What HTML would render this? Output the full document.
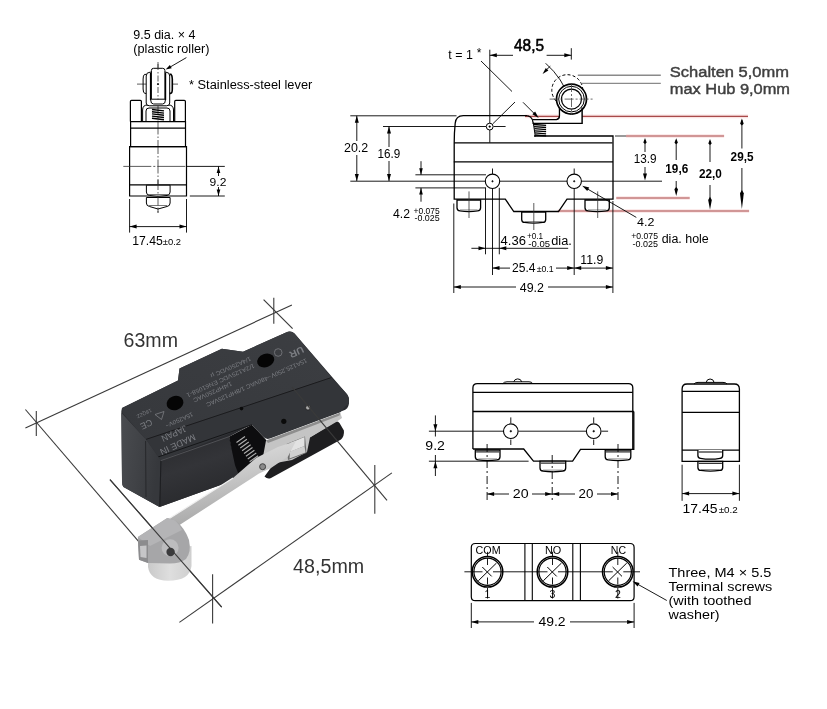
<!DOCTYPE html>
<html><head><meta charset="utf-8"><style>
html,body{margin:0;padding:0;background:#fff;width:827px;height:709px;overflow:hidden}
svg{display:block;will-change:transform}
text{font-family:"Liberation Sans",sans-serif}
</style></head><body>
<svg width="827" height="709" viewBox="0 0 827 709">
<rect x="0" y="0" width="827" height="709" fill="#fff"/>
<text x="133.3" y="39.3" font-size="12" fill="#000" textLength="62.2" lengthAdjust="spacingAndGlyphs">9.5 dia. × 4</text>
<text x="133.3" y="52.6" font-size="12" fill="#000" textLength="76.2" lengthAdjust="spacingAndGlyphs">(plastic roller)</text>
<text x="189" y="88.9" font-size="12" fill="#000" textLength="123.3" lengthAdjust="spacingAndGlyphs">* Stainless-steel lever</text>
<line x1="186.4" y1="57.6" x2="168" y2="68.3" stroke="#000" stroke-width="0.9"/>
<path d="M165.6,69.6 L169.9,65.04 L171.7,68.16 Z" fill="#000"/>
<line x1="158" y1="62" x2="158" y2="213" stroke="#333" stroke-width="0.8" stroke-dasharray="14 2 1.5 2"/>
<line x1="137" y1="84.1" x2="178" y2="84.1" stroke="#333" stroke-width="0.8" stroke-dasharray="12 2 1.5 2"/>
<path d="M142.6,121.6 V110 Q142.6,105 147.5,105 H168.5 Q173.5,105 173.5,110 V121.6" stroke="#000" stroke-width="1" fill="none" />
<path d="M146,121.6 V111 Q146,108 149,108 H167 Q170,108 170,111 V121.6" stroke="#000" stroke-width="1" fill="none" />
<line x1="152" y1="109.5" x2="164" y2="110.9" stroke="#000" stroke-width="1.4"/>
<line x1="152" y1="111.7" x2="164" y2="113.1" stroke="#000" stroke-width="1.4"/>
<line x1="152" y1="113.9" x2="164" y2="115.3" stroke="#000" stroke-width="1.4"/>
<line x1="152" y1="116.1" x2="164" y2="117.5" stroke="#000" stroke-width="1.4"/>
<line x1="152" y1="118.3" x2="164" y2="119.7" stroke="#000" stroke-width="1.4"/>
<path d="M146.2,103 V76 Q146.2,72.2 150,72.2 H166 Q169.7,72.2 169.7,76 V103 Q169.7,105.8 166.5,105.8 H149.5 Q146.2,105.8 146.2,103 Z" stroke="#000" stroke-width="1" fill="#fff" />
<path d="M146.2,74.4 H144.5 Q143.1,75.5 143.1,79 V89 Q143.1,93.4 145,93.4 H146.2" stroke="#000" stroke-width="1" fill="none" />
<path d="M169.7,74.4 H171 Q172.3,75.5 172.3,79 V89 Q172.3,93.4 170.5,93.4 H169.7" stroke="#000" stroke-width="1.6" fill="none" />
<line x1="150.7" y1="73" x2="150.7" y2="100" stroke="#000" stroke-width="1.6"/>
<line x1="165.4" y1="73" x2="165.4" y2="100" stroke="#000" stroke-width="1.6"/>
<path d="M151.4,99.2 V70.5 Q151.4,68.3 153.6,68.3 H162.7 Q164.9,68.3 164.9,70.5 V99.2 Z" stroke="#000" stroke-width="1" fill="#fff" />
<path d="M150.7,100 Q150.7,104 153.5,104 H162.7 Q165.4,104 165.4,100" stroke="#000" stroke-width="1" fill="none" />
<line x1="158" y1="64" x2="158" y2="100" stroke="#333" stroke-width="0.8" stroke-dasharray="6 2 1.5 2"/>
<circle cx="158" cy="84.1" r="0.6" stroke="#000" stroke-width="0.8" fill="#000"/>
<path d="M130.4,121.6 V101.5 Q130.4,100.4 131.5,100.4 H140.3 Q141.4,100.4 141.4,101.5 V121.6" stroke="#000" stroke-width="1.2" fill="none" />
<path d="M174.7,121.6 V101.5 Q174.7,100.4 175.8,100.4 H184.3 Q185.4,100.4 185.4,101.5 V121.6" stroke="#000" stroke-width="1.2" fill="none" />
<path d="M130.6,121.6 H185.5 V146.7 H130.6 Z" stroke="#000" stroke-width="1.2" fill="none" />
<line x1="130.6" y1="128.1" x2="185.5" y2="128.1" stroke="#000" stroke-width="1.2"/>
<path d="M129.6,146.7 H186.5 V196 H129.6 Z" stroke="#000" stroke-width="1.2" fill="none" />
<line x1="129.6" y1="184.8" x2="186.5" y2="184.8" stroke="#000" stroke-width="1.2"/>
<path d="M146.4,185.2 H170.1 V192 Q170.1,195 167,195.5 Q158,197 149.5,195.5 Q146.4,195 146.4,192 Z" stroke="#000" stroke-width="1" fill="#fff" />
<path d="M146.4,197.5 H170.1 V203 Q170.1,206 167,206.5 L158,209 L149.5,206.5 Q146.4,206 146.4,203 Z" stroke="#000" stroke-width="1" fill="#fff" />
<line x1="148" y1="194.5" x2="168" y2="194.5" stroke="#555" stroke-width="0.8"/>
<line x1="149" y1="205.5" x2="167" y2="205.5" stroke="#555" stroke-width="0.8"/>
<line x1="158" y1="180" x2="158" y2="213" stroke="#333" stroke-width="0.8" stroke-dasharray="10 2 1.5 2"/>
<line x1="123.3" y1="166.4" x2="186.5" y2="166.4" stroke="#333" stroke-width="0.8" stroke-dasharray="28 2 2 2"/>
<line x1="186.5" y1="166.4" x2="224.8" y2="166.4" stroke="#000" stroke-width="0.9"/>
<line x1="189.8" y1="196" x2="224.8" y2="196" stroke="#000" stroke-width="0.9"/>
<line x1="218.5" y1="166.4" x2="218.5" y2="176" stroke="#000" stroke-width="0.9"/>
<path d="M218.5,166.4 L220.3,172.9 L216.7,172.9 Z" fill="#000"/>
<line x1="218.5" y1="187" x2="218.5" y2="196" stroke="#000" stroke-width="0.9"/>
<path d="M218.5,196 L216.7,189.5 L220.3,189.5 Z" fill="#000"/>
<text x="209.6" y="185.8" font-size="11.5" fill="#000" textLength="16.8" lengthAdjust="spacingAndGlyphs">9.2</text>
<line x1="129.6" y1="199" x2="129.6" y2="232.6" stroke="#000" stroke-width="0.9"/>
<line x1="186.5" y1="199" x2="186.5" y2="232.6" stroke="#000" stroke-width="0.9"/>
<line x1="129.6" y1="226.6" x2="186.5" y2="226.6" stroke="#000" stroke-width="0.9"/>
<path d="M129.6,226.6 L136.6,224.6 L136.6,228.6 Z" fill="#000"/>
<path d="M186.5,226.6 L179.5,228.6 L179.5,224.6 Z" fill="#000"/>
<text x="132.2" y="245.4" font-size="13" fill="#000" textLength="30.6" lengthAdjust="spacingAndGlyphs">17.45</text>
<text x="162.8" y="245.4" font-size="9" fill="#000" textLength="18.2" lengthAdjust="spacingAndGlyphs">±0.2</text>
<text x="448.3" y="58.6" font-size="12" fill="#000" textLength="24.5" lengthAdjust="spacingAndGlyphs">t = 1</text>
<text x="476.8" y="57" font-size="12" fill="#000">*</text>
<text x="514" y="50.8" font-size="16" fill="#000" stroke="#000" stroke-width="0.55" textLength="30" lengthAdjust="spacingAndGlyphs">48,5</text>
<text x="669.8" y="76.7" font-size="15.5" fill="#3f3f3f" stroke="#3f3f3f" stroke-width="0.45" textLength="119.2" lengthAdjust="spacingAndGlyphs">Schalten 5,0mm</text>
<text x="669.8" y="94.3" font-size="15.5" fill="#3f3f3f" stroke="#3f3f3f" stroke-width="0.45" textLength="120.2" lengthAdjust="spacingAndGlyphs">max Hub 9,0mm</text>
<line x1="489.8" y1="49.7" x2="489.8" y2="142.6" stroke="#000" stroke-width="0.9"/>
<line x1="571.3" y1="48.2" x2="571.3" y2="59.6" stroke="#000" stroke-width="0.9"/>
<line x1="489.8" y1="55.3" x2="513" y2="55.3" stroke="#000" stroke-width="0.9"/>
<path d="M489.8,55.3 L496.8,53.3 L496.8,57.3 Z" fill="#000"/>
<line x1="546.6" y1="55.3" x2="571.3" y2="55.3" stroke="#000" stroke-width="0.9"/>
<path d="M571.3,55.3 L564.3,57.3 L564.3,53.3 Z" fill="#000"/>
<line x1="577.8" y1="75.2" x2="660.8" y2="75.2" stroke="#8a8a8a" stroke-width="1.4"/>
<line x1="582" y1="83.4" x2="660.8" y2="83.4" stroke="#8a8a8a" stroke-width="1.4"/>
<line x1="525" y1="116.4" x2="748" y2="116.4" stroke="#fae3e3" stroke-width="3.6"/>
<line x1="525" y1="116.4" x2="748" y2="116.4" stroke="#a84a4a" stroke-width="1.1"/>
<line x1="626.1" y1="136" x2="724.1" y2="136" stroke="#fae3e3" stroke-width="3.6"/>
<line x1="626.1" y1="136" x2="724.1" y2="136" stroke="#a84a4a" stroke-width="1.1"/>
<line x1="615" y1="136" x2="626.1" y2="136" stroke="#000" stroke-width="0.8"/>
<line x1="616.3" y1="198" x2="689.7" y2="198" stroke="#fae3e3" stroke-width="3.6"/>
<line x1="616.3" y1="198" x2="689.7" y2="198" stroke="#a84a4a" stroke-width="1.1"/>
<line x1="557.8" y1="211" x2="749.1" y2="211" stroke="#fae3e3" stroke-width="3.6"/>
<line x1="557.8" y1="211" x2="749.1" y2="211" stroke="#a84a4a" stroke-width="1.1"/>
<line x1="350.3" y1="115.8" x2="456.5" y2="115.8" stroke="#000" stroke-width="0.9"/>
<line x1="383" y1="126.5" x2="486" y2="126.5" stroke="#000" stroke-width="0.9"/>
<line x1="493.5" y1="126.5" x2="505.6" y2="126.5" stroke="#000" stroke-width="0.9"/>
<line x1="350.3" y1="181.2" x2="662" y2="181.2" stroke="#000" stroke-width="0.9"/>
<line x1="415.4" y1="174.8" x2="486" y2="174.8" stroke="#000" stroke-width="0.9"/>
<line x1="415.4" y1="187.9" x2="486" y2="187.9" stroke="#000" stroke-width="0.9"/>
<line x1="356.8" y1="115.8" x2="356.8" y2="141" stroke="#000" stroke-width="0.9"/>
<path d="M356.8,115.8 L358.8,122.8 L354.8,122.8 Z" fill="#000"/>
<line x1="356.8" y1="155" x2="356.8" y2="181" stroke="#000" stroke-width="0.9"/>
<path d="M356.8,181 L354.8,174 L358.8,174 Z" fill="#000"/>
<text x="344" y="151.7" font-size="12" fill="#000" textLength="24.2" lengthAdjust="spacingAndGlyphs">20.2</text>
<line x1="389" y1="126.5" x2="389" y2="147" stroke="#000" stroke-width="0.9"/>
<path d="M389,126.5 L391,133.5 L387,133.5 Z" fill="#000"/>
<line x1="389" y1="161" x2="389" y2="181" stroke="#000" stroke-width="0.9"/>
<path d="M389,181 L387,174 L391,174 Z" fill="#000"/>
<text x="377.5" y="157.7" font-size="12" fill="#000" textLength="22.7" lengthAdjust="spacingAndGlyphs">16.9</text>
<line x1="421" y1="161.2" x2="421" y2="174.8" stroke="#000" stroke-width="0.9"/>
<path d="M421,174.8 L419.2,168.3 L422.8,168.3 Z" fill="#000"/>
<line x1="421" y1="187.9" x2="421" y2="201.7" stroke="#000" stroke-width="0.9"/>
<path d="M421,187.9 L422.8,194.4 L419.2,194.4 Z" fill="#000"/>
<text x="393" y="217.5" font-size="12" fill="#000" textLength="17" lengthAdjust="spacingAndGlyphs">4.2</text>
<text x="413.5" y="213.5" font-size="8.5" fill="#000" textLength="26.2" lengthAdjust="spacingAndGlyphs">+0.075</text>
<text x="414.5" y="220.9" font-size="8.5" fill="#000" textLength="25.2" lengthAdjust="spacingAndGlyphs">-0.025</text>
<line x1="481" y1="61" x2="512" y2="91.5" stroke="#000" stroke-width="0.9"/>
<line x1="523" y1="102.3" x2="535.5" y2="114.8" stroke="#000" stroke-width="0.9"/>
<path d="M538.7,117.9 L532.41,114.29 L535.09,111.61 Z" fill="#000"/>
<line x1="492.8" y1="123.8" x2="515" y2="102" stroke="#000" stroke-width="0.9"/>
<path d="M527.5,115.6 H463.3 Q455.8,115.8 455.2,123.3 Q454.2,133 454.2,143 V199.2 H505.3 L513.8,211.5 H558.5 L567,199.2 H613 V136 H534" stroke="#000" stroke-width="1.3" fill="none" />
<line x1="454.2" y1="142.8" x2="612.5" y2="142.8" stroke="#000" stroke-width="1.3"/>
<line x1="453.8" y1="161.8" x2="613" y2="161.8" stroke="#000" stroke-width="1.3"/>
<line x1="489.8" y1="142.8" x2="489.8" y2="142.8" stroke="#000" stroke-width="0"/>
<path d="M527.5,115.6 Q531,116.5 532.4,119.6 H556.5 Q559.5,119.3 559.5,116 V106" stroke="#000" stroke-width="1.2" fill="none" />
<path d="M532.7,123.3 H582 V106.4" stroke="#000" stroke-width="1.2" fill="none" />
<path d="M532.4,119.6 L533.4,123.3" stroke="#000" stroke-width="1" fill="none" />
<path d="M533.4,123.3 L535.3,136.5" stroke="#000" stroke-width="1" fill="none" />
<line x1="533.8" y1="124.5" x2="546.1" y2="125.4" stroke="#000" stroke-width="1.3"/>
<line x1="534.1" y1="126.6" x2="546.1" y2="127.5" stroke="#000" stroke-width="1.3"/>
<line x1="534.4" y1="128.7" x2="546.1" y2="129.6" stroke="#000" stroke-width="1.3"/>
<line x1="534.7" y1="130.8" x2="546.1" y2="131.7" stroke="#000" stroke-width="1.3"/>
<line x1="535" y1="132.9" x2="546.1" y2="133.8" stroke="#000" stroke-width="1.3"/>
<line x1="535.3" y1="135" x2="546.1" y2="135.9" stroke="#000" stroke-width="1.3"/>
<circle cx="489.7" cy="126.6" r="3.4" stroke="#000" stroke-width="1" fill="#fff"/>
<circle cx="489.7" cy="126.6" r="0.8" stroke="#000" stroke-width="0.6" fill="#000"/>
<circle cx="567.3" cy="90.2" r="15.5" stroke="#000" stroke-width="1" fill="none" stroke-dasharray="3 2.2"/>
<path d="M545.66,63.29 A84.5,84.5 0 0 1 569.88,99.94" stroke="#000" stroke-width="0.9" fill="none" />
<line x1="550.3" y1="66.2" x2="546" y2="70.2" stroke="#000" stroke-width="0.9"/>
<path d="M542.6,74 L545.78,68.05 L548.39,70.53 Z" fill="#000"/>
<circle cx="571.5" cy="99.1" r="15" stroke="#000" stroke-width="0" fill="#fff"/>
<path d="M559.5,106 V116 Q559.5,119.3 556.5,119.6 H532.4 L533.4,123.3 H582 V106.4 Z" stroke="#000" stroke-width="0" fill="#fff" />
<circle cx="571.5" cy="99.1" r="15" stroke="#000" stroke-width="1.7" fill="none"/>
<circle cx="571.5" cy="99.1" r="12.8" stroke="#000" stroke-width="1" fill="none"/>
<circle cx="571.5" cy="99.1" r="10" stroke="#000" stroke-width="1.2" fill="none"/>
<path d="M559.5,108 V116 Q559.5,119.3 556.5,119.6 H532.4" stroke="#000" stroke-width="1.2" fill="none" />
<path d="M532.7,123.3 H582 V107.5" stroke="#000" stroke-width="1.2" fill="none" />
<line x1="532.4" y1="119.6" x2="533.4" y2="123.3" stroke="#000" stroke-width="1"/>
<line x1="549.6" y1="99.1" x2="592.6" y2="99.1" stroke="#444" stroke-width="0.8" stroke-dasharray="9 2 2 2"/>
<line x1="571.5" y1="83" x2="571.5" y2="115" stroke="#444" stroke-width="0.8" stroke-dasharray="9 2 2 2"/>
<circle cx="492.5" cy="181.3" r="7.2" stroke="#000" stroke-width="1.1" fill="#fff"/>
<circle cx="492.5" cy="181.3" r="0.7" stroke="#000" stroke-width="0.6" fill="#000"/>
<line x1="492.5" y1="168.5" x2="492.5" y2="174" stroke="#000" stroke-width="0.9"/>
<line x1="492.5" y1="188.5" x2="492.5" y2="275" stroke="#000" stroke-width="0.9"/>
<circle cx="574.2" cy="181.3" r="7.2" stroke="#000" stroke-width="1.1" fill="#fff"/>
<circle cx="574.2" cy="181.3" r="0.7" stroke="#000" stroke-width="0.6" fill="#000"/>
<line x1="574.2" y1="168.5" x2="574.2" y2="174" stroke="#000" stroke-width="0.9"/>
<line x1="574.2" y1="188.5" x2="574.2" y2="275" stroke="#000" stroke-width="0.9"/>
<line x1="485.5" y1="187.8" x2="485.5" y2="254.3" stroke="#000" stroke-width="0.9"/>
<line x1="499.3" y1="187.8" x2="499.3" y2="254.3" stroke="#000" stroke-width="0.9"/>
<path d="M457,200 H480.6 V207.8 Q480.6,210.8 477.6,210.8 Q468.8,212.4 460,210.8 Q457,210.8 457,207.8 Z" stroke="#000" stroke-width="1.3" fill="#fff" />
<line x1="460" y1="209.9" x2="477.6" y2="209.9" stroke="#777" stroke-width="0.8"/>
<path d="M521.7,212 H545.7 V219.4 Q545.7,222.4 542.7,222.4 Q533.7,224 524.7,222.4 Q521.7,222.4 521.7,219.4 Z" stroke="#000" stroke-width="1.3" fill="#fff" />
<line x1="524.7" y1="221.5" x2="542.7" y2="221.5" stroke="#777" stroke-width="0.8"/>
<path d="M585,200 H609.3 V207.8 Q609.3,210.8 606.3,210.8 Q597.15,212.4 588,210.8 Q585,210.8 585,207.8 Z" stroke="#000" stroke-width="1.3" fill="#fff" />
<line x1="588" y1="209.9" x2="606.3" y2="209.9" stroke="#777" stroke-width="0.8"/>
<line x1="469" y1="191.4" x2="469" y2="218" stroke="#333" stroke-width="0.8"/>
<line x1="533.8" y1="203" x2="533.8" y2="230" stroke="#333" stroke-width="0.8"/>
<line x1="597.7" y1="191.4" x2="597.7" y2="218" stroke="#333" stroke-width="0.8"/>
<line x1="471.4" y1="248.3" x2="568.2" y2="248.3" stroke="#000" stroke-width="0.9"/>
<path d="M485.5,248.3 L478.5,250.3 L478.5,246.3 Z" fill="#000"/>
<path d="M499.3,248.3 L506.3,246.3 L506.3,250.3 Z" fill="#000"/>
<text x="500.5" y="244.6" font-size="12" fill="#000" textLength="25.4" lengthAdjust="spacingAndGlyphs">4.36</text>
<text x="527" y="238.6" font-size="8.5" fill="#000" textLength="16" lengthAdjust="spacingAndGlyphs">+0.1</text>
<text x="528.3" y="246.6" font-size="8.5" fill="#000" textLength="21.7" lengthAdjust="spacingAndGlyphs">-0.05</text>
<text x="551.2" y="244.6" font-size="12" fill="#000" textLength="20.6" lengthAdjust="spacingAndGlyphs">dia.</text>
<line x1="492.5" y1="268.1" x2="510" y2="268.1" stroke="#000" stroke-width="0.9"/>
<path d="M492.5,268.1 L499.5,266.1 L499.5,270.1 Z" fill="#000"/>
<line x1="556" y1="268.1" x2="574.2" y2="268.1" stroke="#000" stroke-width="0.9"/>
<path d="M574.2,268.1 L567.2,270.1 L567.2,266.1 Z" fill="#000"/>
<text x="512" y="271.7" font-size="12" fill="#000" textLength="23.5" lengthAdjust="spacingAndGlyphs">25.4</text>
<text x="536.7" y="271.7" font-size="8.5" fill="#000" textLength="17" lengthAdjust="spacingAndGlyphs">±0.1</text>
<line x1="574.2" y1="268.1" x2="612.9" y2="268.1" stroke="#000" stroke-width="0.9"/>
<path d="M574.2,268.1 L581.2,266.1 L581.2,270.1 Z" fill="#000"/>
<path d="M612.9,268.1 L605.9,270.1 L605.9,266.1 Z" fill="#000"/>
<text x="580.3" y="263.5" font-size="12" fill="#000" textLength="22.9" lengthAdjust="spacingAndGlyphs">11.9</text>
<line x1="453.8" y1="203.5" x2="453.8" y2="293" stroke="#000" stroke-width="0.9"/>
<line x1="612.9" y1="201" x2="612.9" y2="293" stroke="#000" stroke-width="0.9"/>
<line x1="453.8" y1="287" x2="516" y2="287" stroke="#000" stroke-width="0.9"/>
<line x1="548" y1="287" x2="612.9" y2="287" stroke="#000" stroke-width="0.9"/>
<path d="M453.8,287 L460.8,285 L460.8,289 Z" fill="#000"/>
<path d="M612.9,287 L605.9,289 L605.9,285 Z" fill="#000"/>
<text x="519.8" y="291.8" font-size="12" fill="#000" textLength="24.2" lengthAdjust="spacingAndGlyphs">49.2</text>
<line x1="585" y1="187.5" x2="636.3" y2="217.4" stroke="#000" stroke-width="0.9"/>
<path d="M582.2,185.8 L589.25,187.6 L587.24,191.05 Z" fill="#000"/>
<text x="637" y="225.8" font-size="11.5" fill="#000" textLength="17.4" lengthAdjust="spacingAndGlyphs">4.2</text>
<text x="631.2" y="239.2" font-size="8.5" fill="#000" textLength="26.8" lengthAdjust="spacingAndGlyphs">+0.075</text>
<text x="632.6" y="246.7" font-size="8.5" fill="#000" textLength="25.4" lengthAdjust="spacingAndGlyphs">-0.025</text>
<text x="661.7" y="242.5" font-size="12" fill="#000" textLength="47.1" lengthAdjust="spacingAndGlyphs">dia. hole</text>
<line x1="645" y1="140" x2="645" y2="152" stroke="#000" stroke-width="0.9"/>
<path d="M645,138 L646.7,142.5 L645,144 L643.3,142.5 Z" fill="#000"/>
<line x1="645" y1="167" x2="645" y2="178" stroke="#000" stroke-width="0.9"/>
<path d="M645,180.5 L643,173.5 L647,173.5 Z" fill="#000"/>
<text x="633.7" y="163.1" font-size="13" fill="#000" textLength="22.9" lengthAdjust="spacingAndGlyphs">13.9</text>
<line x1="676.2" y1="140" x2="676.2" y2="160" stroke="#000" stroke-width="0.9"/>
<path d="M676.2,138.3 L677.9,142.8 L676.2,144.3 L674.5,142.8 Z" fill="#000"/>
<line x1="676.2" y1="181" x2="676.2" y2="190" stroke="#000" stroke-width="0.9"/>
<path d="M676.2,196 L674.4,189.25 L676.2,187 L678,189.25 Z" fill="#000"/>
<text x="665.3" y="172.9" font-size="12.5" font-weight="bold" fill="#000" textLength="22.9" lengthAdjust="spacingAndGlyphs">19,6</text>
<line x1="710" y1="141" x2="710" y2="162" stroke="#000" stroke-width="0.9"/>
<path d="M710,139 L711.7,143.5 L710,145 L708.3,143.5 Z" fill="#000"/>
<line x1="710" y1="185" x2="710" y2="200" stroke="#000" stroke-width="0.9"/>
<path d="M710,209.8 L708.2,200.05 L710,196.8 L711.8,200.05 Z" fill="#000"/>
<text x="699" y="177.9" font-size="12.5" font-weight="bold" fill="#000" textLength="22.9" lengthAdjust="spacingAndGlyphs">22,0</text>
<line x1="741.9" y1="120" x2="741.9" y2="148.5" stroke="#000" stroke-width="0.9"/>
<path d="M741.9,118.6 L743.7,123.85 L741.9,125.6 L740.1,123.85 Z" fill="#000"/>
<line x1="741.9" y1="168" x2="741.9" y2="193" stroke="#000" stroke-width="0.9"/>
<path d="M741.9,208.9 L740,193.13 L741.9,189.9 L743.8,193.13 Z" fill="#000"/>
<text x="730.6" y="160.5" font-size="12.5" font-weight="bold" fill="#000" textLength="22.9" lengthAdjust="spacingAndGlyphs">29,5</text>
<path d="M472.9,449 V388 Q472.9,383.6 477.3,383.6 H628.4 Q632.8,383.6 632.8,388 V449.4" stroke="#000" stroke-width="1.3" fill="none" />
<path d="M502.9,383.6 Q504,381.8 507,381.8 H529 Q532,381.8 532.6,383.6" stroke="#000" stroke-width="1" fill="none" />
<path d="M513.8,381.8 Q514.5,378.9 517.7,378.9 Q521,378.9 521.7,381.8" stroke="#000" stroke-width="1" fill="none" />
<line x1="472.9" y1="392.3" x2="632.8" y2="392.3" stroke="#000" stroke-width="1.3"/>
<line x1="472.9" y1="411.5" x2="633.8" y2="411.5" stroke="#000" stroke-width="1.3"/>
<path d="M633.8,411.5 V449.4 H580.5 L572.6,461.2 H533.5 L523.7,449 H472.9" stroke="#000" stroke-width="1.3" fill="none" />
<circle cx="510.8" cy="431.2" r="7.3" stroke="#000" stroke-width="1.1" fill="#fff"/>
<circle cx="510.8" cy="431.2" r="0.8" stroke="#000" stroke-width="0.6" fill="#000"/>
<line x1="510.8" y1="417.4" x2="510.8" y2="423" stroke="#000" stroke-width="0.9"/>
<line x1="510.8" y1="439.5" x2="510.8" y2="445" stroke="#000" stroke-width="0.9"/>
<circle cx="593.7" cy="431.2" r="7.3" stroke="#000" stroke-width="1.1" fill="#fff"/>
<circle cx="593.7" cy="431.2" r="0.8" stroke="#000" stroke-width="0.6" fill="#000"/>
<line x1="593.7" y1="417.4" x2="593.7" y2="423" stroke="#000" stroke-width="0.9"/>
<line x1="593.7" y1="439.5" x2="593.7" y2="445" stroke="#000" stroke-width="0.9"/>
<line x1="428.9" y1="431.2" x2="503" y2="431.2" stroke="#000" stroke-width="0.9"/>
<line x1="518.5" y1="431.2" x2="586" y2="431.2" stroke="#000" stroke-width="0.9"/>
<line x1="601.5" y1="431.2" x2="608.1" y2="431.2" stroke="#000" stroke-width="0.9"/>
<path d="M475.3,450 H500 V456.8 Q500,459.8 497,459.8 Q487.65,461.4 478.3,459.8 Q475.3,459.8 475.3,456.8 Z" stroke="#000" stroke-width="1.3" fill="#fff" />
<line x1="476.1" y1="451.9" x2="499.2" y2="451.9" stroke="#111" stroke-width="1.1"/>
<line x1="478.3" y1="458.9" x2="497" y2="458.9" stroke="#777" stroke-width="0.8"/>
<path d="M540,461.2 H565.7 V468 Q565.7,471 562.7,471 Q552.85,472.6 543,471 Q540,471 540,468 Z" stroke="#000" stroke-width="1.3" fill="#fff" />
<line x1="540.8" y1="463.1" x2="564.9" y2="463.1" stroke="#111" stroke-width="1.1"/>
<line x1="543" y1="470.1" x2="562.7" y2="470.1" stroke="#777" stroke-width="0.8"/>
<path d="M605.2,450 H630.8 V456.8 Q630.8,459.8 627.8,459.8 Q618,461.4 608.2,459.8 Q605.2,459.8 605.2,456.8 Z" stroke="#000" stroke-width="1.3" fill="#fff" />
<line x1="606" y1="451.9" x2="630" y2="451.9" stroke="#111" stroke-width="1.1"/>
<line x1="608.2" y1="458.9" x2="627.8" y2="458.9" stroke="#777" stroke-width="0.8"/>
<line x1="428.9" y1="461.2" x2="528.6" y2="461.2" stroke="#000" stroke-width="0.9"/>
<line x1="435.4" y1="415.4" x2="435.4" y2="436.5" stroke="#000" stroke-width="0.9"/>
<path d="M435.4,431.2 L433.4,424.2 L437.4,424.2 Z" fill="#000"/>
<line x1="435.4" y1="455" x2="435.4" y2="476" stroke="#000" stroke-width="0.9"/>
<path d="M435.4,461.2 L437.4,468.2 L433.4,468.2 Z" fill="#000"/>
<text x="425.3" y="450.3" font-size="13.5" fill="#000" textLength="19.6" lengthAdjust="spacingAndGlyphs">9.2</text>
<line x1="487.1" y1="444" x2="487.1" y2="500.3" stroke="#000" stroke-width="0.9" stroke-dasharray="8 3 2 3"/>
<line x1="552.2" y1="455" x2="552.2" y2="500.3" stroke="#000" stroke-width="0.9" stroke-dasharray="8 3 2 3"/>
<line x1="618" y1="444" x2="618" y2="500.3" stroke="#000" stroke-width="0.9" stroke-dasharray="8 3 2 3"/>
<line x1="487.1" y1="494" x2="509" y2="494" stroke="#000" stroke-width="0.9"/>
<line x1="532" y1="494" x2="552.2" y2="494" stroke="#000" stroke-width="0.9"/>
<line x1="552.2" y1="494" x2="575" y2="494" stroke="#000" stroke-width="0.9"/>
<line x1="597" y1="494" x2="618" y2="494" stroke="#000" stroke-width="0.9"/>
<path d="M487.1,494 L494.1,492 L494.1,496 Z" fill="#000"/>
<path d="M552.2,494 L545.2,496 L545.2,492 Z" fill="#000"/>
<path d="M552.2,494 L559.2,492 L559.2,496 Z" fill="#000"/>
<path d="M618,494 L611,496 L611,492 Z" fill="#000"/>
<text x="512.8" y="498.4" font-size="13" fill="#000" textLength="15.8" lengthAdjust="spacingAndGlyphs">20</text>
<text x="578.5" y="498.4" font-size="13" fill="#000" textLength="14.8" lengthAdjust="spacingAndGlyphs">20</text>
<path d="M682.1,461.4 V389 Q682.1,384 687.1,384 H734.4 Q739.4,384 739.4,389 V461.4 Z" stroke="#000" stroke-width="1.3" fill="none" />
<path d="M694,384 Q695,382.4 698,382.4 H723 Q726,382.4 727,384" stroke="#000" stroke-width="1" fill="none" />
<path d="M706.2,382.4 Q706.8,379 710.1,379 Q713.5,379 714.1,382.4" stroke="#000" stroke-width="1" fill="none" />
<line x1="682.1" y1="391.4" x2="739.4" y2="391.4" stroke="#000" stroke-width="1.3"/>
<line x1="682.1" y1="412.4" x2="739.4" y2="412.4" stroke="#000" stroke-width="1.3"/>
<line x1="682.1" y1="450.1" x2="739.4" y2="450.1" stroke="#000" stroke-width="1.3"/>
<path d="M697.9,450.1 V455.5 Q697.9,458.2 700.5,458.3 Q710.3,460 720,458.3 Q722.7,458.2 722.7,455.5 V450.1" stroke="#000" stroke-width="1.3" fill="#fff" />
<line x1="698.7" y1="452" x2="721.9" y2="452" stroke="#111" stroke-width="1.1"/>
<path d="M697.9,461.4 H722.7 V467.4 Q722.7,470.4 719.7,470.4 Q710.3,472 700.9,470.4 Q697.9,470.4 697.9,467.4 Z" stroke="#000" stroke-width="1.3" fill="#fff" />
<line x1="698.7" y1="463.3" x2="721.9" y2="463.3" stroke="#111" stroke-width="1.1"/>
<line x1="700.9" y1="469.5" x2="719.7" y2="469.5" stroke="#777" stroke-width="0.8"/>
<line x1="682.1" y1="464.7" x2="682.1" y2="500.8" stroke="#000" stroke-width="0.9"/>
<line x1="739.4" y1="464.7" x2="739.4" y2="500.8" stroke="#000" stroke-width="0.9"/>
<line x1="682.1" y1="493.6" x2="739.4" y2="493.6" stroke="#000" stroke-width="0.9"/>
<path d="M682.1,493.6 L689.1,491.6 L689.1,495.6 Z" fill="#000"/>
<path d="M739.4,493.6 L732.4,495.6 L732.4,491.6 Z" fill="#000"/>
<text x="682.6" y="513.2" font-size="13" fill="#000" textLength="34.9" lengthAdjust="spacingAndGlyphs">17.45</text>
<text x="718.7" y="513.2" font-size="9.5" fill="#000" textLength="19.1" lengthAdjust="spacingAndGlyphs">±0.2</text>
<path d="M475.3,543.5 H630.1 Q634.1,543.5 634.1,547.5 V596.7 Q634.1,600.7 630.1,600.7 H475.3 Q471.3,600.7 471.3,596.7 V547.5 Q471.3,543.5 475.3,543.5 Z" stroke="#000" stroke-width="1.2" fill="none" />
<line x1="524.9" y1="543.5" x2="524.9" y2="600.7" stroke="#000" stroke-width="1.1"/>
<line x1="532.3" y1="543.5" x2="532.3" y2="600.7" stroke="#000" stroke-width="1.1"/>
<line x1="572.8" y1="543.5" x2="572.8" y2="600.7" stroke="#000" stroke-width="1.1"/>
<line x1="580.4" y1="543.5" x2="580.4" y2="600.7" stroke="#000" stroke-width="1.1"/>
<line x1="464.4" y1="571.8" x2="471.5" y2="571.8" stroke="#000" stroke-width="0.9"/>
<line x1="503" y1="571.8" x2="537" y2="571.8" stroke="#000" stroke-width="0.9"/>
<line x1="568" y1="571.8" x2="602" y2="571.8" stroke="#000" stroke-width="0.9"/>
<line x1="633" y1="571.8" x2="640" y2="571.8" stroke="#000" stroke-width="0.9"/>
<circle cx="487.5" cy="571.8" r="15.3" stroke="#000" stroke-width="1.5" fill="#fff"/>
<circle cx="487.5" cy="571.8" r="13.6" stroke="#000" stroke-width="1.2" fill="none"/>
<line x1="478.3" y1="580.8" x2="496.5" y2="563" stroke="#000" stroke-width="1"/>
<line x1="482.3" y1="567" x2="491.7" y2="576.4" stroke="#000" stroke-width="1"/>
<line x1="487.5" y1="551.8" x2="487.5" y2="556" stroke="#000" stroke-width="0.9"/>
<line x1="487.5" y1="558" x2="487.5" y2="565" stroke="#000" stroke-width="0.9"/>
<line x1="487.5" y1="577.5" x2="487.5" y2="584.5" stroke="#000" stroke-width="0.9"/>
<line x1="487.5" y1="588" x2="487.5" y2="598.5" stroke="#000" stroke-width="0.9"/>
<line x1="472.5" y1="571.8" x2="482.5" y2="571.8" stroke="#000" stroke-width="0.9"/>
<line x1="493" y1="571.8" x2="502.5" y2="571.8" stroke="#000" stroke-width="0.9"/>
<text x="488.1" y="553.8" font-size="10.5" text-anchor="middle" fill="#000" textLength="25" lengthAdjust="spacingAndGlyphs">COM</text>
<text x="487.5" y="597.5" font-size="10.5" text-anchor="middle" fill="#000">1</text>
<circle cx="552.5" cy="571.8" r="15.3" stroke="#000" stroke-width="1.5" fill="#fff"/>
<circle cx="552.5" cy="571.8" r="13.6" stroke="#000" stroke-width="1.2" fill="none"/>
<line x1="543.3" y1="580.8" x2="561.5" y2="563" stroke="#000" stroke-width="1"/>
<line x1="547.3" y1="567" x2="556.7" y2="576.4" stroke="#000" stroke-width="1"/>
<line x1="552.5" y1="551.8" x2="552.5" y2="556" stroke="#000" stroke-width="0.9"/>
<line x1="552.5" y1="558" x2="552.5" y2="565" stroke="#000" stroke-width="0.9"/>
<line x1="552.5" y1="577.5" x2="552.5" y2="584.5" stroke="#000" stroke-width="0.9"/>
<line x1="552.5" y1="588" x2="552.5" y2="598.5" stroke="#000" stroke-width="0.9"/>
<line x1="537.5" y1="571.8" x2="547.5" y2="571.8" stroke="#000" stroke-width="0.9"/>
<line x1="558" y1="571.8" x2="567.5" y2="571.8" stroke="#000" stroke-width="0.9"/>
<text x="553.1" y="553.8" font-size="10.5" text-anchor="middle" fill="#000" textLength="16.3" lengthAdjust="spacingAndGlyphs">NO</text>
<text x="552.5" y="597.5" font-size="10.5" text-anchor="middle" fill="#000">3</text>
<circle cx="617.8" cy="571.8" r="15.3" stroke="#000" stroke-width="1.5" fill="#fff"/>
<circle cx="617.8" cy="571.8" r="13.6" stroke="#000" stroke-width="1.2" fill="none"/>
<line x1="608.6" y1="580.8" x2="626.8" y2="563" stroke="#000" stroke-width="1"/>
<line x1="612.6" y1="567" x2="622" y2="576.4" stroke="#000" stroke-width="1"/>
<line x1="617.8" y1="551.8" x2="617.8" y2="556" stroke="#000" stroke-width="0.9"/>
<line x1="617.8" y1="558" x2="617.8" y2="565" stroke="#000" stroke-width="0.9"/>
<line x1="617.8" y1="577.5" x2="617.8" y2="584.5" stroke="#000" stroke-width="0.9"/>
<line x1="617.8" y1="588" x2="617.8" y2="598.5" stroke="#000" stroke-width="0.9"/>
<line x1="602.8" y1="571.8" x2="612.8" y2="571.8" stroke="#000" stroke-width="0.9"/>
<line x1="623.3" y1="571.8" x2="632.8" y2="571.8" stroke="#000" stroke-width="0.9"/>
<text x="618.4" y="553.8" font-size="10.5" text-anchor="middle" fill="#000" textLength="15.2" lengthAdjust="spacingAndGlyphs">NC</text>
<text x="617.8" y="597.5" font-size="10.5" text-anchor="middle" fill="#000">2</text>
<line x1="471.3" y1="602.9" x2="471.3" y2="628" stroke="#000" stroke-width="0.9"/>
<line x1="634.1" y1="602.9" x2="634.1" y2="628" stroke="#000" stroke-width="0.9"/>
<line x1="471.3" y1="621.9" x2="534" y2="621.9" stroke="#000" stroke-width="0.9"/>
<line x1="570" y1="621.9" x2="634.1" y2="621.9" stroke="#000" stroke-width="0.9"/>
<path d="M471.3,621.9 L478.3,619.9 L478.3,623.9 Z" fill="#000"/>
<path d="M634.1,621.9 L627.1,623.9 L627.1,619.9 Z" fill="#000"/>
<text x="538.4" y="626.2" font-size="13" fill="#000" textLength="27.2" lengthAdjust="spacingAndGlyphs">49.2</text>
<line x1="635.5" y1="583" x2="666.8" y2="600.5" stroke="#000" stroke-width="0.9"/>
<path d="M632.5,581.2 L639.57,582.93 L637.59,586.4 Z" fill="#000"/>
<text x="668.5" y="577" font-size="13" fill="#000" textLength="102.8" lengthAdjust="spacingAndGlyphs">Three, M4 × 5.5</text>
<text x="668.5" y="591" font-size="13" fill="#000" textLength="103.7" lengthAdjust="spacingAndGlyphs">Terminal screws</text>
<text x="668.5" y="604.9" font-size="13" fill="#000" textLength="83" lengthAdjust="spacingAndGlyphs">(with toothed</text>
<text x="668.5" y="619.2" font-size="13" fill="#000" textLength="51" lengthAdjust="spacingAndGlyphs">washer)</text>
<defs>
<linearGradient id="gTop" x1="0" y1="1" x2="1" y2="0">
 <stop offset="0" stop-color="#36383c"/><stop offset="1" stop-color="#3c3e42"/></linearGradient>
<linearGradient id="gEnd" x1="0" y1="0" x2="1" y2="0.3">
 <stop offset="0" stop-color="#4a4c50"/><stop offset="0.55" stop-color="#404246"/><stop offset="1" stop-color="#36383c"/></linearGradient>
<linearGradient id="gFront" x1="0" y1="0" x2="0.4" y2="1">
 <stop offset="0" stop-color="#28292c"/><stop offset="0.5" stop-color="#333438"/><stop offset="1" stop-color="#28292c"/></linearGradient>
<linearGradient id="gLever" x1="0" y1="0" x2="0.3" y2="1">
 <stop offset="0" stop-color="#e6e6e6"/><stop offset="0.5" stop-color="#c8c8c8"/><stop offset="1" stop-color="#a4a4a4"/></linearGradient>
<linearGradient id="gRoll" x1="0" y1="0" x2="0" y2="1">
 <stop offset="0" stop-color="#d8d8d8"/><stop offset="1" stop-color="#eeeeee"/></linearGradient>
</defs>
<line x1="25.4" y1="427.9" x2="291.9" y2="305" stroke="#3a3a3a" stroke-width="1.1"/>
<line x1="36.3" y1="411" x2="36.3" y2="436" stroke="#3a3a3a" stroke-width="1.1"/>
<line x1="25.4" y1="409.5" x2="142.2" y2="545.6" stroke="#3a3a3a" stroke-width="1.1"/>
<line x1="263.6" y1="299.7" x2="292.6" y2="328.7" stroke="#3a3a3a" stroke-width="1.1"/>
<line x1="273.8" y1="297.8" x2="273.8" y2="323.7" stroke="#3a3a3a" stroke-width="1.1"/>
<line x1="110" y1="479.6" x2="221.7" y2="607.2" stroke="#3a3a3a" stroke-width="1.1"/>
<line x1="212.6" y1="574.3" x2="212.6" y2="623.4" stroke="#3a3a3a" stroke-width="1.1"/>
<line x1="179.4" y1="622.4" x2="391.9" y2="472.9" stroke="#3a3a3a" stroke-width="1.1"/>
<line x1="374.8" y1="465.1" x2="374.8" y2="513.8" stroke="#3a3a3a" stroke-width="1.1"/>
<text x="123.6" y="347.2" font-size="19.5" fill="#333" textLength="54.4" lengthAdjust="spacingAndGlyphs">63mm</text>
<text x="293.1" y="572.6" font-size="19.5" fill="#333" textLength="71.1" lengthAdjust="spacingAndGlyphs">48,5mm</text>
<path d="M122,408 L178,380.5 L179.5,368.4 L221.9,348.7 L243,351.7 L286,332.5 Q291,330.3 294.5,333.5 L345.5,392.5 Q349,396 349,400 L348.8,404 Q348.5,409 342.8,410.7 L270,436.4 Q266,437.5 262,434 L252.1,424.3 L229,436.7 L240,478 L159.5,507 L123.5,487 Q122,485 122,481 L121.3,414 Q121.3,410 122,408 Z" stroke="#000" stroke-width="0" fill="#2a2b2f" />
<path d="M122,408 L178,380.5 L179.5,368.4 L221.9,348.7 L243,351.7 L286,332.5 Q291,330.3 294.5,333.5 L331.5,377.5 L146,439.4 L122.5,413 Z" stroke="#000" stroke-width="0" fill="url(#gTop)" />
<path d="M146,439.4 L331.5,377.5 L345.5,392.5 Q349,396 349,400 L348.8,404 L346,405.8 L340.3,412.3 L270,438.5 Q266,440 263,436.5 L251.8,424.7 L160.9,460.6 Z" stroke="#000" stroke-width="0" fill="#333539" />
<line x1="146" y1="439.4" x2="331.5" y2="377.5" stroke="#18191b" stroke-width="0.9"/>
<line x1="158" y1="457" x2="251.8" y2="424.7" stroke="#151618" stroke-width="1"/>
<path d="M121.5,413 L146,439.4 L160.9,460.6 L159.5,507 L123.5,487 Q122,485 122,481 Z" stroke="#000" stroke-width="0" fill="url(#gEnd)" />
<line x1="145.6" y1="441" x2="146" y2="497" stroke="#26272a" stroke-width="1"/>
<path d="M160.9,460.6 L229,436.7 L235,465 L240,478 L159.5,507 Z" stroke="#000" stroke-width="0" fill="url(#gFront)" />
<line x1="160.9" y1="460.6" x2="229" y2="436.7" stroke="#505155" stroke-width="1"/>
<line x1="160.9" y1="461" x2="159.8" y2="506" stroke="#1d1e21" stroke-width="1.1"/>
<path d="M229,436.7 L251.8,424.7 L263,436.5 L268,442 L262,462 L256,468 L240,478 L235,465 Z" stroke="#000" stroke-width="0" fill="#0d0d0f" />
<line x1="236.5" y1="442.5" x2="245" y2="436.5" stroke="#b0b0b0" stroke-width="1.1"/>
<line x1="238.38" y1="445.25" x2="246.88" y2="439.25" stroke="#b0b0b0" stroke-width="1.1"/>
<line x1="240.25" y1="448" x2="248.75" y2="442" stroke="#b0b0b0" stroke-width="1.1"/>
<line x1="242.12" y1="450.75" x2="250.62" y2="444.75" stroke="#b0b0b0" stroke-width="1.1"/>
<line x1="244" y1="453.5" x2="252.5" y2="447.5" stroke="#b0b0b0" stroke-width="1.1"/>
<line x1="245.88" y1="456.25" x2="254.38" y2="450.25" stroke="#b0b0b0" stroke-width="1.1"/>
<line x1="247.75" y1="459" x2="256.25" y2="453" stroke="#b0b0b0" stroke-width="1.1"/>
<line x1="249.62" y1="461.75" x2="258.12" y2="455.75" stroke="#b0b0b0" stroke-width="1.1"/>
<line x1="251.5" y1="464.5" x2="260" y2="458.5" stroke="#b0b0b0" stroke-width="1.1"/>
<path d="M292.4,447.9 L334,422.5 Q337,420.5 339.5,423 L343.9,430.5 Q344.5,436 341,439.6 L271,478 Q267.5,479.5 264.5,476.5 L275,462 Z" stroke="#000" stroke-width="0" fill="#1e1e20" />
<path d="M266,440.5 L340.3,412.8 L342,418 L336.6,421.8 L310,437.5 L307,452 L292,460 L276,463 L262,462 Z" stroke="#000" stroke-width="0" fill="#c4c4c4" />
<path d="M266,440.5 L340.3,412.8 L339.5,415.5 L268,443 Z" stroke="#000" stroke-width="0" fill="#8e8e8e" />
<path d="M286.5,444 L305,436.5 L306.5,453 L288,460 Z" stroke="#000" stroke-width="0" fill="#6a6a6a" />
<path d="M290,443 L304.5,437 L304.5,446 L291,451.5 Z" stroke="#000" stroke-width="0" fill="#e2e2e2" />
<path d="M290,451.5 L304.5,446 L305.5,452.5 L289.5,458.5 Z" stroke="#000" stroke-width="0" fill="#d0d0d0" />
<path d="M167.7,519.6 L233,478 L256,458 L277.9,447 L296,441 L288,456.6 L270.6,468.2 L259,473.5 L174.5,528.3 Z" stroke="#000" stroke-width="0" fill="url(#gLever)" />
<line x1="167.7" y1="519.6" x2="233" y2="478" stroke="#f0f0f0" stroke-width="1.2"/>
<circle cx="262.6" cy="466.7" r="3" stroke="#444" stroke-width="1" fill="#8a8a8a"/>
<ellipse cx="175" cy="403.1" rx="8.6" ry="7" fill="#050505" transform="rotate(-20 175 403.1)"/>
<ellipse cx="265.7" cy="360.5" rx="8.8" ry="6.6" fill="#050505" transform="rotate(-20 265.7 360.5)"/>
<circle cx="241.5" cy="408.6" r="1.8" stroke="#000" stroke-width="0" fill="#0a0a0a"/>
<circle cx="283.8" cy="421.3" r="2.6" stroke="#000" stroke-width="0" fill="#0a0a0a"/>
<circle cx="308" cy="407.7" r="2.4" stroke="#222" stroke-width="0.8" fill="#aaa"/>
<text transform="translate(306.12,358.33) rotate(155.9)" font-size="6" fill="#7c7e83" textLength="110" lengthAdjust="spacingAndGlyphs">15A125,250V~480VAC 1/8HP125VAC</text>
<text transform="translate(253.62,363.43) rotate(155.9)" font-size="6" fill="#7c7e83" textLength="74" lengthAdjust="spacingAndGlyphs">1/2A125VDC EN61058-1</text>
<text transform="translate(250.12,356.53) rotate(155.9)" font-size="6" fill="#7c7e83" textLength="44" lengthAdjust="spacingAndGlyphs">1/4A250VDC μ</text>
<text transform="translate(231.12,381.53) rotate(155.9)" font-size="6" fill="#7c7e83" textLength="42" lengthAdjust="spacingAndGlyphs">1/4HP250VAC</text>
<text transform="translate(192.12,412.03) rotate(155.9)" font-size="6" fill="#7c7e83" textLength="30" lengthAdjust="spacingAndGlyphs">15A250V~</text>
<text transform="translate(193.63,433.66) rotate(155)" font-size="9" fill="#7c7e83" textLength="38" lengthAdjust="spacingAndGlyphs">MADE IN</text>
<text transform="translate(185.03,424.96) rotate(155)" font-size="9" fill="#7c7e83" textLength="27" lengthAdjust="spacingAndGlyphs">JAPAN</text>
<text transform="translate(150.64,408.57) rotate(155)" font-size="5" fill="#7c7e83" textLength="16" lengthAdjust="spacingAndGlyphs">18QZZ</text>
<text transform="translate(150.5,419) rotate(155)" font-size="9" fill="#7c7e83" textLength="12" lengthAdjust="spacingAndGlyphs">CE</text>
<path d="M155,414.5 L164,411.5 L161.5,419.5 Z" fill="none" stroke="#7c7e83" stroke-width="0.8"/>
<text transform="translate(302,346) rotate(155)" font-size="9.5" font-weight="bold" fill="#7c7e83" textLength="15" lengthAdjust="spacingAndGlyphs">UR</text>
<circle cx="278.2" cy="352.5" r="3.8" stroke="#7c7e83" stroke-width="0.8" fill="none"/>
<linearGradient id="gRB" x1="0" y1="0" x2="1" y2="0"><stop offset="0" stop-color="#c9c9c9"/><stop offset="0.5" stop-color="#dedede"/><stop offset="1" stop-color="#cfcfcf"/></linearGradient>
<path d="M148,552 L191.5,546 L191.5,566 Q190,580.8 168,580.8 Q150,580.5 148,567 Z" stroke="#000" stroke-width="0" fill="url(#gRB)" />
<path d="M137.9,537.1 L167.3,517.9 L175.2,520.5 Q185,528 189,540 Q191.5,552 186,559 Q180,563.5 170,563.5 L148,563 L139,559.7 Z" stroke="#000" stroke-width="0" fill="#a6a6a8" />
<path d="M137.9,537.1 L167.3,517.9 L175.2,520.5 Q180,525 182,530 L150,546 Z" stroke="#000" stroke-width="0" fill="#b4b4b6" />
<path d="M137.9,540.5 L148,540 L148,563 L139,559.7 Z" stroke="#000" stroke-width="0" fill="#8c8c8e" />
<path d="M140,546 L146.5,545.5 L146.5,558 L140.5,557 Z" stroke="#000" stroke-width="0" fill="#c6c6c8" />
<circle cx="170.1" cy="547.8" r="8.5" stroke="#000" stroke-width="0" fill="#bcbcbe"/>
<circle cx="170.6" cy="552" r="4.2" stroke="#000" stroke-width="0" fill="#3a3a3c"/>
<line x1="110" y1="479.6" x2="221.7" y2="607.2" stroke="#3a3a3a" stroke-width="1.1"/>
<line x1="292" y1="386.9" x2="387" y2="500.4" stroke="#3a3a3a" stroke-width="1.1"/>
</svg></body></html>
